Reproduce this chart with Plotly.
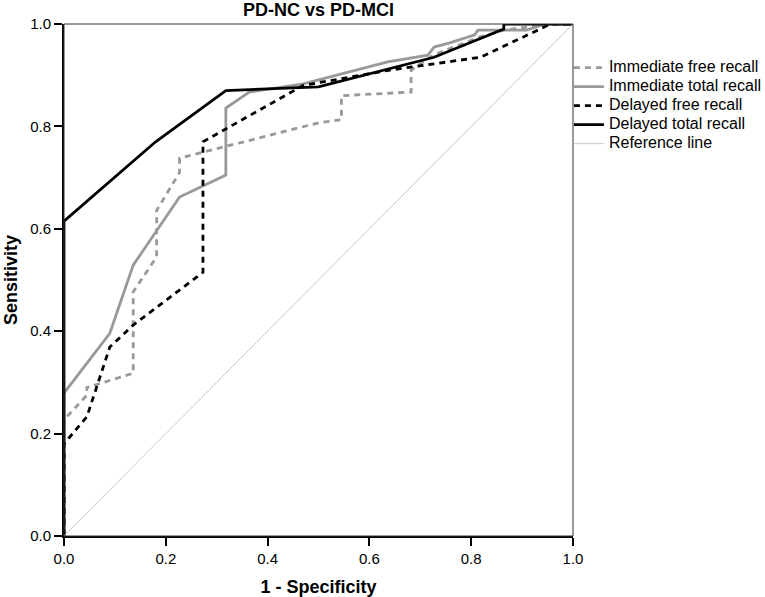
import plotly.graph_objects as go

# ROC curves (x = 1 - specificity, y = sensitivity)
imm_free_x = [0, 0, 0.045, 0.045, 0.136, 0.136, 0.182, 0.182, 0.227, 0.227, 0.5, 0.545, 0.545, 0.682, 0.682, 0.727, 0.818, 0.864, 0.955, 1.0]
imm_free_y = [0, 0.227, 0.275, 0.29, 0.318, 0.477, 0.545, 0.636, 0.71, 0.738, 0.807, 0.813, 0.86, 0.867, 0.91, 0.94, 0.975, 0.988, 1.0, 1.0]

imm_total_x = [0, 0, 0.09, 0.136, 0.227, 0.318, 0.318, 0.364, 0.47, 0.636, 0.715, 0.727, 0.758, 0.807, 0.813, 0.909, 0.945, 1.0]
imm_total_y = [0, 0.279, 0.396, 0.529, 0.662, 0.705, 0.836, 0.867, 0.883, 0.926, 0.939, 0.955, 0.963, 0.979, 0.988, 0.988, 1.0, 1.0]

del_free_x = [0, 0, 0.045, 0.09, 0.136, 0.273, 0.273, 0.47, 0.64, 0.818, 0.935, 0.955, 1.0]
del_free_y = [0, 0.18, 0.233, 0.369, 0.412, 0.515, 0.77, 0.88, 0.91, 0.935, 0.99, 1.0, 1.0]

del_total_x = [0, 0, 0.18, 0.318, 0.5, 0.6, 0.727, 0.864, 0.864, 1.0]
del_total_y = [0, 0.615, 0.77, 0.87, 0.877, 0.902, 0.935, 0.99, 1.0, 1.0]

ref_x = [0, 1]
ref_y = [0, 1]

names = ['Immediate free recall', 'Immediate total recall', 'Delayed free recall',
         'Delayed total recall', 'Reference line']

grey = '#999999'


def leg(name):
    # bigger text inside a tighter legend row
    return '<span style="font-size:16px">' + name + '</span>'


traces = [
    go.Scatter(x=imm_free_x, y=imm_free_y, mode='lines', name=leg(names[0]),
               line=dict(color=grey, width=2.8, dash='6px,5px')),
    go.Scatter(x=imm_total_x, y=imm_total_y, mode='lines', name=leg(names[1]),
               line=dict(color=grey, width=2.8)),
    go.Scatter(x=del_free_x, y=del_free_y, mode='lines', name=leg(names[2]),
               line=dict(color='black', width=2.8, dash='6px,5px')),
    go.Scatter(x=del_total_x, y=del_total_y, mode='lines', name=leg(names[3]),
               line=dict(color='black', width=2.8)),
    go.Scatter(x=ref_x, y=ref_y, mode='lines', name=leg(names[4]),
               line=dict(color='#c8c8c8', width=1)),
]

axis_style = dict(range=[0, 1], tickvals=[0, 0.2, 0.4, 0.6, 0.8, 1.0], tickformat='.1f',
                  showgrid=False, zeroline=False, showline=True, linecolor='black', linewidth=2,
                  ticks='outside', ticklen=8, tickwidth=1.5, tickcolor='black',
                  tickfont=dict(size=15), automargin=False)

layout = go.Layout(
    width=765, height=597,
    margin=dict(l=64, r=192, t=24, b=61, autoexpand=False),
    paper_bgcolor='white', plot_bgcolor='white',
    font=dict(family='Liberation Sans, Arial', size=13, color='black'),
    title=dict(text='<b>PD-NC vs PD-MCI</b>', x=0.5, xref='paper', xanchor='center',
               y=0.983, yanchor='middle', font=dict(size=18), automargin=False),
    xaxis=dict(axis_style, title=dict(text='<b>1 - Specificity</b>', font=dict(size=18), standoff=16)),
    yaxis=dict(axis_style, title=dict(text='<b>Sensitivity</b>', font=dict(size=18), standoff=8)),
    legend=dict(x=0.992, xanchor='left', y=0.943, yanchor='top', font=dict(size=12),
                bgcolor='rgba(0,0,0,0)', tracegroupgap=0, itemwidth=30),
    shapes=[dict(type='rect', xref='paper', yref='paper', x0=0, y0=0, x1=1, y1=1,
                 line=dict(color='#333333', width=1))],
)

fig = go.Figure(data=traces, layout=layout)
fig.write_html("out.html", config={'displayModeBar': False},
               post_script="document.body.style.margin='0px';")
